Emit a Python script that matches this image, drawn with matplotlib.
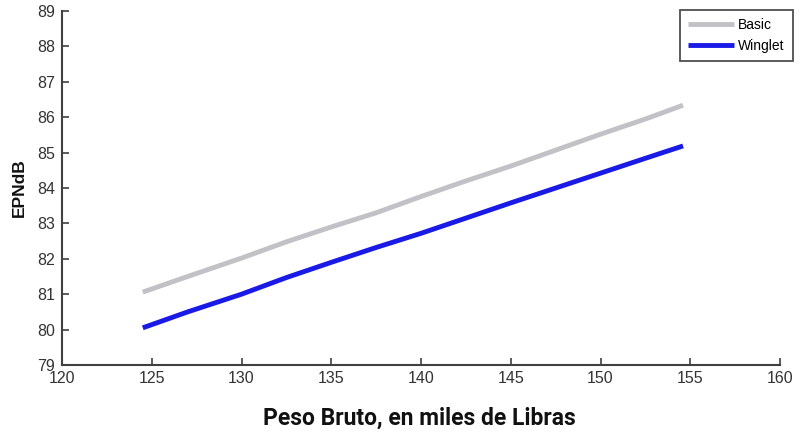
import matplotlib
matplotlib.use("Agg")
import matplotlib.pyplot as plt

weight_klb = [124.5, 127.0, 130.0, 132.5, 135.0, 137.5, 140.0, 142.5, 145.0, 147.5, 150.0, 152.5, 154.6]
basic = [81.06, 81.50, 82.02, 82.48, 82.90, 83.30, 83.76, 84.20, 84.62, 85.07, 85.52, 85.95, 86.34]
winglet = [80.05, 80.50, 81.00, 81.47, 81.90, 82.32, 82.72, 83.15, 83.58, 84.00, 84.42, 84.84, 85.19]

xticks = [120, 125, 130, 135, 140, 145, 150, 155, 160]
yticks = [79, 80, 81, 82, 83, 84, 85, 86, 87, 88, 89]

tick_font = "Liberation Sans"

fig = plt.figure(figsize=(8, 4.38), dpi=100)
ax = fig.add_axes([0.0775, 0.1667, 0.8975, 0.808])

ax.plot(weight_klb, basic, color="#c2c2c6", lw=3.5, label="Basic", solid_capstyle="butt")
ax.plot(weight_klb, winglet, color="#1a1ae6", lw=3.5, label="Winglet", solid_capstyle="butt")

ax.set_xlim(120, 160)
ax.set_ylim(79, 89)
ax.set_xticks(xticks)
ax.set_yticks(yticks)
for s in ["top", "right"]:
    ax.spines[s].set_visible(False)
for s in ["left", "bottom"]:
    ax.spines[s].set_color("#404040")
    ax.spines[s].set_linewidth(1.5)
ax.tick_params(direction="in", length=5, width=1.2, color="#404040", labelsize=11.5, labelcolor="#333333")
ax.tick_params(axis="x", pad=4)
ax.tick_params(axis="y", pad=5)
for lab in ax.get_xticklabels() + ax.get_yticklabels():
    lab.set_fontfamily(tick_font)

ax.set_xlabel("Peso Bruto, en miles de Libras", fontsize=16.5, fontweight="bold", family="Roboto", color="#111111")
ax.xaxis.set_label_coords((419 - 62) / 718, -(418 - 365) / 354)
ax.xaxis.label.set_va("center")
ax.set_ylabel("EPNdB", fontsize=12.5, fontweight="bold", family=tick_font, color="#111111")
ax.yaxis.set_label_coords(-(62 - 19) / 718, 0.5)
ax.yaxis.label.set_va("center")

leg = ax.legend(loc="upper right", bbox_to_anchor=(1.018, 1.003), borderaxespad=0,
                prop={"family": tick_font, "size": 10},
                frameon=True, fancybox=False, edgecolor="#222222", handlelength=3.3,
                handletextpad=0.3, borderpad=0.6, labelspacing=0.45)
leg.get_frame().set_linewidth(1.3)

fig.savefig("out.png", dpi=100)
